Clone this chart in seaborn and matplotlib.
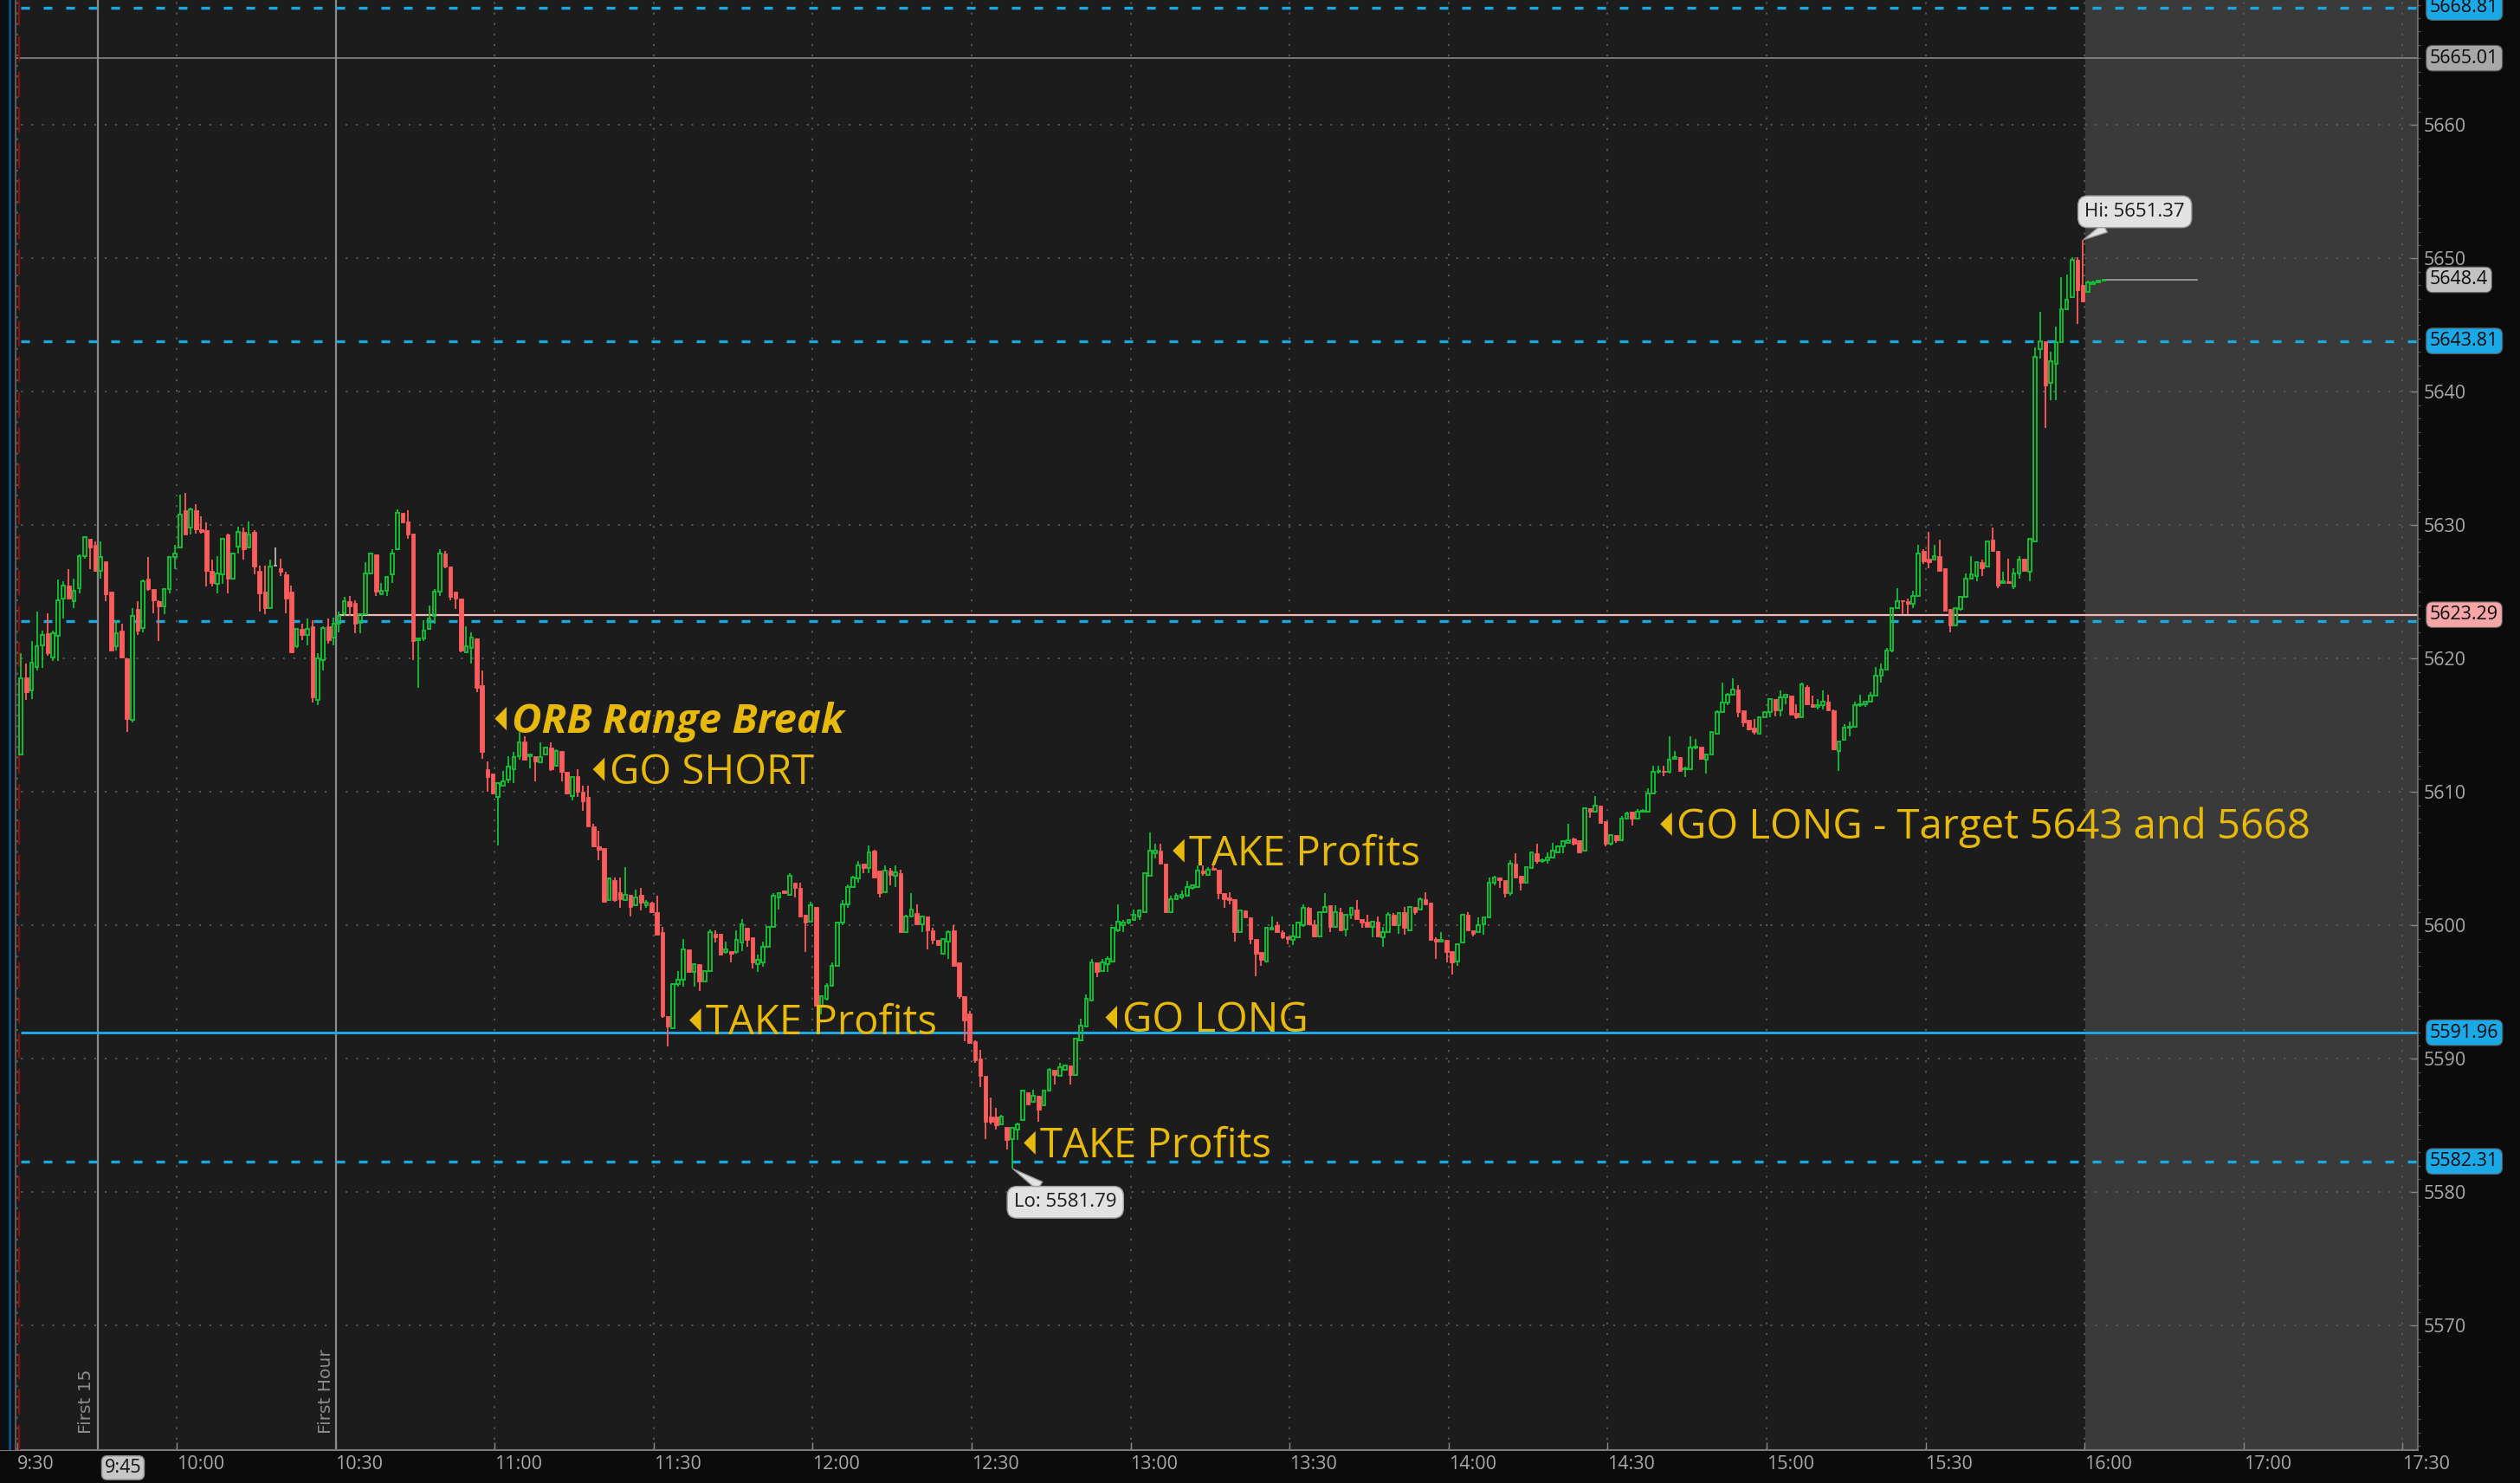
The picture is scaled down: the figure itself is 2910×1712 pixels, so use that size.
import numpy as np
import pandas as pd
import matplotlib
matplotlib.use("Agg")
import matplotlib.pyplot as plt
import seaborn as sns
from matplotlib.path import Path
from matplotlib.markers import MarkerStyle
from matplotlib.ticker import MultipleLocator, NullLocator
from matplotlib.transforms import blended_transform_factory

# 1-minute candles from 9:30 (index 0) to 15:59 (389) plus 4 after-close prints
opens = [
    5612.8, 5618.6, 5617.6, 5619.4, 5621.0, 5621.9, 5620.1, 5621.7, 5624.5, 5625.5,
    5624.3, 5625.3, 5627.7, 5629.0, 5628.5, 5626.6, 5627.3, 5625.0, 5620.9, 5622.1,
    5620.0, 5615.4, 5623.7, 5622.3, 5626.0, 5625.2, 5624.3, 5623.9, 5625.2, 5627.6,
    5628.3, 5631.1, 5629.8, 5631.1, 5629.7, 5629.6, 5626.6, 5625.6, 5626.3, 5629.3,
    5626.0, 5628.4, 5629.5, 5628.3, 5629.5, 5626.6, 5625.0, 5623.8, 5627.0, 5626.8,
    5626.3, 5625.0, 5620.9, 5622.2, 5621.8, 5622.4, 5616.9, 5619.9, 5622.4, 5621.6,
    5622.6, 5623.4, 5624.3, 5624.2, 5622.7, 5623.3, 5626.4, 5627.8, 5624.8, 5625.1,
    5626.3, 5628.2, 5630.9, 5630.3, 5629.4, 5621.4, 5621.5, 5622.2, 5623.2, 5625.0,
    5627.9, 5626.9, 5625.0, 5624.5, 5620.5, 5620.8, 5621.5, 5618.0, 5611.7, 5611.4,
    5609.6, 5610.5, 5610.9, 5611.7, 5612.7, 5613.8, 5612.7, 5612.7, 5612.2, 5612.8,
    5613.3, 5612.0, 5613.1, 5611.5, 5609.7, 5611.2, 5610.0, 5609.6, 5607.4, 5605.9,
    5605.8, 5601.9, 5603.4, 5602.5, 5601.9, 5602.3, 5601.5, 5602.3, 5601.5, 5601.7,
    5601.0, 5599.5, 5593.2, 5592.3, 5595.6, 5595.9, 5598.2, 5596.5, 5597.1, 5595.8,
    5596.6, 5599.4, 5599.4, 5598.0, 5598.1, 5598.0, 5598.7, 5599.8, 5599.1, 5597.1,
    5597.2, 5598.4, 5599.9, 5602.1, 5602.6, 5602.3, 5603.2, 5602.8, 5600.8, 5600.3,
    5601.4, 5594.0, 5594.5, 5595.5, 5597.0, 5600.2, 5601.6, 5602.9, 5603.5, 5604.6,
    5604.3, 5605.6, 5604.1, 5602.5, 5604.1, 5603.7, 5603.9, 5599.5, 5600.7, 5600.9,
    5600.1, 5600.7, 5599.6, 5598.9, 5597.9, 5598.8, 5599.6, 5597.2, 5594.7, 5593.4,
    5591.3, 5590.0, 5588.7, 5585.7, 5585.7, 5585.1, 5584.9, 5584.0, 5584.7, 5585.4,
    5587.5, 5586.8, 5587.2, 5586.5, 5587.6, 5589.2, 5588.7, 5589.2, 5589.5, 5588.8,
    5591.4, 5592.4, 5594.4, 5597.2, 5596.6, 5597.1, 5597.3, 5599.6, 5600.0, 5600.2,
    5600.4, 5600.7, 5601.0, 5603.7, 5605.4, 5605.6, 5604.6, 5601.0, 5602.0, 5602.1,
    5602.2, 5602.8, 5602.9, 5604.1, 5603.8, 5604.3, 5604.2, 5602.4, 5602.1, 5602.0,
    5599.5, 5601.1, 5600.6, 5599.0, 5598.0, 5597.3, 5599.7, 5600.0, 5599.5, 5599.2,
    5598.9, 5599.1, 5600.0, 5601.3, 5600.1, 5599.2, 5601.0, 5601.5, 5599.9, 5601.0,
    5599.7, 5600.8, 5601.2, 5600.5, 5600.3, 5599.9, 5600.3, 5599.1, 5599.5, 5600.8,
    5600.0, 5601.0, 5599.6, 5601.4, 5601.2, 5602.0, 5601.7, 5599.0, 5598.8, 5598.9,
    5598.1, 5597.3, 5598.7, 5600.8, 5599.6, 5599.5, 5600.1, 5600.6, 5603.2, 5603.6,
    5603.4, 5602.4, 5604.6, 5603.7, 5603.2, 5604.3, 5605.4, 5604.8, 5604.9, 5605.1,
    5605.5, 5605.9, 5606.2, 5606.5, 5606.4, 5605.6, 5608.8, 5608.5, 5609.0, 5607.8,
    5606.1, 5606.8, 5606.4, 5608.0, 5608.5, 5608.0, 5608.5, 5608.5, 5609.9, 5611.5,
    5611.6, 5611.5, 5612.5, 5612.6, 5611.7, 5611.7, 5613.3, 5613.4, 5612.4, 5612.8,
    5614.4, 5616.0, 5616.7, 5617.3, 5617.7, 5616.1, 5615.4, 5614.8, 5614.4, 5615.6,
    5616.0, 5617.0, 5616.1, 5617.1, 5617.2, 5615.9, 5615.6, 5617.9, 5616.6, 5616.4,
    5616.5, 5616.8, 5616.1, 5613.1, 5613.9, 5614.8, 5614.9, 5616.5, 5616.6, 5616.8,
    5617.2, 5618.7, 5619.2, 5620.6, 5623.8, 5624.4, 5624.3, 5624.1, 5624.7, 5628.1,
    5627.5, 5627.4, 5627.7, 5626.8, 5623.7, 5622.5, 5623.7, 5624.6, 5626.0, 5626.2,
    5627.2, 5626.9, 5628.9, 5628.1, 5625.7, 5625.8, 5625.4, 5626.4, 5627.5, 5626.5,
    5628.8, 5643.2, 5643.8, 5640.7, 5642.1, 5643.7, 5646.2, 5647.1, 5649.9, 5648.0,
    5647.5, 5648.1, 5648.2, 5648.3,
]
highs = [
    5620.4, 5619.6, 5621.3, 5623.5, 5622.1, 5623.4, 5622.1, 5625.9, 5625.8, 5626.7,
    5626.0, 5627.8, 5629.1, 5629.0, 5628.8, 5628.8, 5627.3, 5625.0, 5622.9, 5622.6,
    5620.0, 5623.8, 5624.3, 5625.9, 5627.6, 5625.2, 5624.4, 5625.3, 5627.6, 5628.5,
    5632.3, 5632.4, 5631.3, 5631.6, 5630.7, 5630.2, 5627.4, 5627.7, 5629.0, 5629.4,
    5627.9, 5629.9, 5629.8, 5630.3, 5629.6, 5627.0, 5627.0, 5627.4, 5628.3, 5627.5,
    5626.5, 5625.5, 5622.2, 5622.6, 5623.0, 5622.9, 5620.4, 5622.4, 5623.0, 5623.1,
    5623.5, 5624.6, 5624.7, 5624.4, 5623.4, 5627.2, 5627.9, 5627.8, 5625.7, 5626.1,
    5628.2, 5631.2, 5630.9, 5631.1, 5629.4, 5621.5, 5622.9, 5624.0, 5625.2, 5628.2,
    5628.1, 5626.9, 5625.0, 5624.5, 5622.4, 5622.0, 5621.5, 5619.1, 5612.3, 5611.4,
    5610.7, 5611.6, 5612.7, 5613.0, 5614.5, 5614.2, 5612.9, 5612.7, 5613.7, 5613.3,
    5613.7, 5613.2, 5613.1, 5611.5, 5611.1, 5611.7, 5610.5, 5610.5, 5607.6, 5607.1,
    5605.8, 5603.6, 5603.6, 5603.6, 5604.4, 5602.3, 5602.7, 5602.8, 5601.9, 5601.8,
    5602.2, 5599.9, 5593.2, 5595.7, 5596.6, 5599.0, 5598.2, 5597.1, 5597.1, 5596.6,
    5599.7, 5599.6, 5599.4, 5598.8, 5598.1, 5599.6, 5600.5, 5599.8, 5599.1, 5597.8,
    5598.8, 5599.9, 5602.4, 5602.5, 5602.6, 5603.9, 5603.2, 5603.2, 5600.8, 5601.8,
    5601.4, 5594.7, 5595.7, 5597.2, 5600.2, 5601.9, 5603.1, 5603.7, 5604.8, 5604.6,
    5606.0, 5605.7, 5604.1, 5604.5, 5604.3, 5604.5, 5604.2, 5600.8, 5602.4, 5601.6,
    5600.7, 5600.7, 5599.8, 5598.9, 5599.0, 5599.6, 5600.0, 5597.2, 5594.7, 5593.6,
    5591.4, 5590.7, 5588.7, 5587.1, 5586.3, 5585.8, 5584.9, 5584.8, 5585.2, 5587.7,
    5587.5, 5587.7, 5587.2, 5587.6, 5589.3, 5589.2, 5589.7, 5589.5, 5589.5, 5591.5,
    5593.0, 5594.8, 5597.5, 5597.2, 5597.5, 5597.7, 5599.8, 5601.6, 5600.4, 5600.4,
    5601.2, 5601.1, 5603.9, 5607.0, 5606.1, 5606.1, 5604.6, 5602.2, 5602.4, 5602.6,
    5603.3, 5603.1, 5604.5, 5604.5, 5604.4, 5604.6, 5604.2, 5602.4, 5602.5, 5602.0,
    5601.1, 5601.1, 5600.6, 5599.0, 5598.0, 5599.8, 5600.7, 5600.3, 5599.6, 5599.2,
    5600.1, 5600.3, 5601.6, 5601.4, 5600.4, 5601.0, 5602.4, 5601.5, 5601.5, 5601.3,
    5600.8, 5601.3, 5601.9, 5600.5, 5600.8, 5600.3, 5600.7, 5599.9, 5601.0, 5600.9,
    5600.9, 5601.4, 5601.4, 5601.4, 5602.1, 5602.5, 5601.7, 5599.1, 5599.5, 5598.9,
    5598.1, 5598.6, 5600.8, 5601.0, 5599.6, 5600.6, 5600.6, 5603.6, 5603.7, 5603.6,
    5603.4, 5604.9, 5605.4, 5603.7, 5604.4, 5605.5, 5606.1, 5605.0, 5605.5, 5606.2,
    5606.0, 5606.3, 5607.6, 5606.6, 5606.4, 5608.8, 5608.8, 5609.7, 5609.0, 5607.8,
    5606.8, 5606.8, 5608.2, 5608.5, 5608.5, 5608.7, 5608.7, 5610.3, 5612.0, 5612.0,
    5612.0, 5614.2, 5613.1, 5612.6, 5611.9, 5614.2, 5614.0, 5613.4, 5612.9, 5614.5,
    5616.1, 5618.2, 5617.4, 5618.5, 5618.0, 5616.1, 5615.4, 5615.5, 5615.6, 5616.0,
    5617.0, 5617.0, 5617.6, 5617.3, 5617.2, 5616.6, 5618.2, 5618.0, 5617.2, 5617.0,
    5617.6, 5617.3, 5616.2, 5613.8, 5615.1, 5615.3, 5616.8, 5617.3, 5616.8, 5617.5,
    5619.4, 5619.6, 5620.8, 5623.8, 5625.3, 5624.4, 5624.5, 5625.1, 5628.5, 5628.2,
    5629.5, 5628.5, 5628.9, 5626.8, 5623.7, 5623.8, 5624.7, 5626.4, 5627.7, 5627.2,
    5627.4, 5628.8, 5629.8, 5628.1, 5626.5, 5627.5, 5626.8, 5627.7, 5627.5, 5629.0,
    5643.3, 5646.0, 5643.8, 5643.0, 5644.9, 5648.6, 5648.8, 5650.1, 5650.1, 5651.37,
    5648.3, 5648.3, 5648.3, 5648.4,
]
lows = [
    5612.8, 5616.9, 5617.0, 5619.1, 5619.3, 5620.2, 5619.8, 5619.8, 5623.0, 5624.5,
    5623.8, 5624.9, 5627.5, 5626.7, 5626.5, 5626.0, 5624.3, 5620.6, 5620.6, 5620.1,
    5614.5, 5615.2, 5621.8, 5622.0, 5625.1, 5623.4, 5621.3, 5623.3, 5624.9, 5626.7,
    5628.3, 5629.3, 5629.3, 5629.4, 5629.4, 5625.4, 5625.4, 5624.9, 5625.6, 5624.9,
    5626.0, 5627.9, 5627.4, 5628.3, 5626.3, 5623.5, 5623.3, 5623.8, 5626.9, 5626.2,
    5623.4, 5620.5, 5620.8, 5621.4, 5621.0, 5616.7, 5616.5, 5619.1, 5621.1, 5621.0,
    5622.0, 5623.2, 5623.2, 5621.9, 5621.9, 5623.3, 5626.3, 5624.7, 5624.8, 5624.7,
    5625.7, 5628.2, 5630.2, 5629.0, 5619.9, 5617.8, 5621.3, 5622.2, 5622.6, 5624.7,
    5626.8, 5624.4, 5623.7, 5620.5, 5620.5, 5619.6, 5617.5, 5612.5, 5610.0, 5609.8,
    5606.0, 5610.4, 5610.7, 5610.7, 5612.4, 5612.4, 5611.8, 5610.8, 5612.2, 5612.8,
    5611.6, 5611.9, 5610.8, 5609.8, 5609.4, 5609.6, 5608.6, 5607.4, 5605.9, 5604.9,
    5601.7, 5601.9, 5601.8, 5601.3, 5601.9, 5600.7, 5601.5, 5601.1, 5601.3, 5600.9,
    5599.3, 5593.1, 5590.9, 5592.3, 5595.4, 5595.4, 5596.5, 5595.4, 5595.1, 5595.8,
    5596.6, 5598.7, 5597.8, 5597.9, 5597.2, 5597.9, 5598.1, 5598.4, 5596.8, 5596.5,
    5596.9, 5598.3, 5599.9, 5601.2, 5602.4, 5602.2, 5602.1, 5600.6, 5598.0, 5600.3,
    5594.0, 5593.3, 5594.4, 5595.5, 5597.0, 5600.0, 5601.3, 5602.8, 5603.2, 5603.9,
    5603.9, 5603.6, 5602.1, 5602.5, 5603.0, 5602.9, 5599.5, 5599.5, 5600.6, 5600.1,
    5599.5, 5598.2, 5598.6, 5598.5, 5597.9, 5597.5, 5597.0, 5594.5, 5591.3, 5591.1,
    5589.7, 5587.9, 5584.0, 5585.1, 5584.7, 5585.1, 5583.2, 5581.79, 5583.9, 5585.4,
    5586.6, 5586.8, 5585.3, 5586.5, 5587.6, 5588.1, 5588.7, 5589.2, 5588.1, 5588.8,
    5591.4, 5592.4, 5594.4, 5596.1, 5596.6, 5596.5, 5597.3, 5599.5, 5599.5, 5600.1,
    5600.4, 5600.4, 5601.0, 5603.7, 5605.0, 5604.6, 5601.0, 5601.0, 5601.9, 5602.0,
    5602.2, 5602.7, 5602.9, 5603.7, 5603.8, 5604.2, 5602.0, 5601.3, 5601.6, 5598.8,
    5599.5, 5600.6, 5598.6, 5596.2, 5597.0, 5597.3, 5599.7, 5599.5, 5599.0, 5598.6,
    5598.5, 5599.1, 5599.9, 5600.1, 5599.2, 5599.2, 5600.9, 5599.5, 5599.9, 5599.6,
    5599.2, 5600.5, 5600.5, 5599.8, 5599.9, 5599.1, 5599.2, 5598.4, 5599.5, 5600.0,
    5599.4, 5599.3, 5599.6, 5600.8, 5601.2, 5601.6, 5598.9, 5597.5, 5598.8, 5597.2,
    5596.3, 5597.0, 5598.7, 5599.6, 5599.2, 5599.5, 5599.3, 5600.6, 5603.0, 5602.8,
    5602.1, 5602.2, 5603.6, 5602.6, 5603.2, 5604.3, 5604.6, 5604.7, 5604.6, 5605.1,
    5605.4, 5605.4, 5606.2, 5606.0, 5605.5, 5605.6, 5608.1, 5608.5, 5607.7, 5605.9,
    5606.0, 5606.2, 5606.3, 5608.0, 5607.5, 5608.0, 5608.5, 5608.5, 5609.9, 5611.4,
    5611.2, 5611.4, 5612.4, 5611.6, 5611.1, 5611.7, 5613.2, 5612.4, 5611.4, 5612.8,
    5614.4, 5616.0, 5616.5, 5617.3, 5615.6, 5614.9, 5614.6, 5614.3, 5614.4, 5615.6,
    5615.6, 5615.7, 5615.7, 5616.6, 5615.8, 5615.5, 5615.6, 5616.6, 5616.3, 5616.2,
    5616.2, 5616.1, 5613.2, 5611.6, 5613.9, 5614.2, 5614.9, 5616.4, 5616.4, 5616.8,
    5617.2, 5618.2, 5619.2, 5620.5, 5623.8, 5623.3, 5623.3, 5623.8, 5624.7, 5627.1,
    5626.8, 5627.4, 5626.6, 5623.6, 5622.0, 5622.5, 5623.6, 5624.6, 5626.0, 5625.8,
    5626.2, 5626.9, 5628.1, 5625.3, 5625.6, 5625.7, 5625.2, 5626.0, 5626.6, 5625.8,
    5628.8, 5642.5, 5637.3, 5639.4, 5639.4, 5643.7, 5646.1, 5647.1, 5645.1, 5646.8,
    5647.5, 5648.1, 5648.2, 5648.3,
]
closes = [
    5618.5, 5617.5, 5619.7, 5620.9, 5621.8, 5620.4, 5621.9, 5624.4, 5625.5, 5624.5,
    5625.1, 5627.7, 5629.1, 5628.3, 5626.6, 5627.6, 5624.8, 5620.6, 5621.9, 5620.1,
    5615.5, 5623.2, 5622.1, 5625.8, 5625.2, 5624.4, 5623.9, 5625.2, 5627.6, 5627.9,
    5630.8, 5629.3, 5631.2, 5629.7, 5629.5, 5626.6, 5625.7, 5626.4, 5629.0, 5626.0,
    5627.9, 5629.5, 5628.2, 5629.3, 5626.9, 5624.9, 5623.8, 5626.9, 5627.0, 5626.5,
    5624.5, 5620.5, 5622.2, 5621.8, 5622.2, 5617.1, 5620.0, 5622.3, 5621.4, 5622.6,
    5623.2, 5624.3, 5623.9, 5622.6, 5623.3, 5626.4, 5627.9, 5625.0, 5625.1, 5626.1,
    5627.9, 5630.9, 5630.2, 5629.3, 5621.3, 5621.5, 5622.1, 5623.0, 5625.0, 5627.9,
    5626.9, 5624.6, 5624.5, 5620.6, 5620.9, 5621.6, 5617.8, 5613.0, 5611.1, 5609.9,
    5610.7, 5610.8, 5611.9, 5612.6, 5613.7, 5612.4, 5612.8, 5612.3, 5612.6, 5613.3,
    5611.7, 5613.1, 5611.5, 5609.9, 5611.1, 5610.0, 5609.3, 5607.4, 5605.9, 5605.7,
    5601.8, 5603.5, 5601.9, 5602.0, 5602.3, 5601.4, 5602.1, 5601.7, 5601.7, 5601.0,
    5599.3, 5593.2, 5592.4, 5595.6, 5595.9, 5598.2, 5596.5, 5597.1, 5595.8, 5596.6,
    5599.5, 5599.1, 5597.8, 5598.2, 5597.9, 5598.9, 5600.1, 5598.9, 5597.2, 5597.4,
    5598.4, 5599.9, 5602.2, 5602.4, 5602.4, 5603.7, 5602.8, 5600.7, 5600.2, 5601.5,
    5594.0, 5594.7, 5595.5, 5597.0, 5600.2, 5601.6, 5602.9, 5603.6, 5604.5, 5604.3,
    5605.5, 5603.6, 5602.4, 5604.1, 5603.8, 5604.0, 5599.5, 5600.7, 5601.2, 5600.1,
    5600.7, 5599.6, 5598.9, 5598.5, 5599.0, 5599.5, 5597.0, 5594.7, 5592.9, 5591.2,
    5589.9, 5588.7, 5585.3, 5585.3, 5585.0, 5585.7, 5583.9, 5584.8, 5585.1, 5587.6,
    5586.6, 5587.2, 5586.2, 5587.6, 5589.2, 5588.8, 5589.4, 5589.5, 5588.8, 5591.5,
    5592.5, 5594.5, 5597.2, 5596.5, 5597.2, 5597.5, 5599.8, 5600.3, 5600.2, 5600.4,
    5600.8, 5601.1, 5603.9, 5605.6, 5605.6, 5604.6, 5601.0, 5602.0, 5602.2, 5602.3,
    5602.9, 5603.0, 5604.1, 5603.9, 5604.2, 5604.2, 5602.4, 5602.0, 5601.9, 5599.5,
    5601.1, 5600.6, 5599.0, 5597.9, 5597.4, 5599.8, 5599.8, 5599.5, 5599.1, 5599.0,
    5599.2, 5600.2, 5601.3, 5600.1, 5599.2, 5601.0, 5601.4, 5599.9, 5601.0, 5599.6,
    5600.8, 5601.3, 5600.5, 5600.2, 5599.9, 5600.3, 5599.2, 5599.5, 5600.8, 5600.0,
    5600.9, 5599.8, 5601.4, 5601.0, 5602.0, 5601.6, 5598.9, 5598.8, 5598.9, 5598.0,
    5597.2, 5598.6, 5600.8, 5599.6, 5599.4, 5600.0, 5600.6, 5603.2, 5603.6, 5603.4,
    5602.4, 5604.6, 5603.6, 5603.2, 5604.4, 5605.5, 5604.8, 5604.9, 5605.1, 5605.6,
    5605.9, 5606.3, 5606.4, 5606.1, 5605.5, 5608.8, 5608.5, 5609.0, 5607.7, 5606.1,
    5606.8, 5606.4, 5608.0, 5608.4, 5608.0, 5608.5, 5608.6, 5609.9, 5611.5, 5611.6,
    5611.5, 5612.4, 5612.6, 5611.6, 5611.8, 5613.3, 5613.4, 5612.5, 5612.8, 5614.5,
    5616.0, 5616.7, 5617.3, 5617.7, 5616.0, 5615.2, 5614.7, 5614.5, 5615.6, 5616.0,
    5617.0, 5616.1, 5617.1, 5617.3, 5615.8, 5615.6, 5618.1, 5616.6, 5616.4, 5616.5,
    5616.8, 5616.1, 5613.2, 5613.8, 5614.8, 5614.9, 5616.5, 5616.6, 5616.8, 5617.2,
    5618.7, 5619.2, 5620.6, 5623.8, 5624.3, 5624.3, 5624.1, 5624.7, 5627.9, 5627.3,
    5627.2, 5627.7, 5626.6, 5623.6, 5622.5, 5623.8, 5624.6, 5626.0, 5626.3, 5627.2,
    5626.8, 5628.8, 5628.1, 5625.5, 5625.8, 5625.7, 5626.4, 5627.4, 5626.6, 5629.0,
    5642.6, 5643.8, 5640.5, 5642.3, 5643.7, 5646.2, 5646.9, 5649.9, 5647.6, 5646.8,
    5648.2, 5648.2, 5648.3, 5648.4,
]

time_ticks = [0, 30, 60, 90, 120, 150, 180, 210, 240, 270, 300, 330, 360, 390, 420, 450]
time_labels = ["9:30", "10:00", "10:30", "11:00", "11:30", "12:00", "12:30", "13:00",
               "13:30", "14:00", "14:30", "15:00", "15:30", "16:00", "17:00", "17:30"]
price_ticks = [5570, 5580, 5590, 5600, 5610, 5620, 5630, 5640, 5650, 5660]

# price levels drawn on the chart
dashed_levels = [5668.81, 5643.81, 5622.8, 5582.31]
solid_level = 5591.96
prev_close = 5623.29
gray_level = 5665.01
last_price = 5648.4

# boxed labels on the price axis
box_values = [5668.81, 5665.01, 5648.4, 5643.81, 5623.29, 5591.96, 5582.31]
box_texts = ["5668.81", "5665.01", "5648.4", "5643.81", "5623.29", "5591.96", "5582.31"]
box_colors = ["#1aa9e6", "#a8a8a8", "#c2c2c2", "#1aa9e6", "#f6a6a6", "#1aa9e6", "#1aa9e6"]

# trade notes: minute of triangle tip, price of its centre
ann_texts = ["ORB Range Break", "GO SHORT", "TAKE Profits", "TAKE Profits",
             "GO LONG", "TAKE Profits", "GO LONG - Target 5643 and 5668"]
ann_x = [90.1, 108.6, 126.8, 189.9, 205.3, 218.0, 310.0]
ann_y = [5615.5, 5611.7, 5592.9, 5583.7, 5593.1, 5605.6, 5607.6]

GREEN = "#12c234"
RED = "#fd5c5c"
GOLD = "#e7b90a"
CYAN = "#1ba8e2"
BG = "#1c1c1c"
PX = 6.12  # pixels per minute

sns.set_style("dark", {"axes.facecolor": BG})
plt.rcParams["font.family"] = ["Open Sans", "DejaVu Sans"]

fig = plt.figure(figsize=(29.10, 17.12), dpi=100)
fig.patch.set_facecolor("#0b0b0b")
ax = fig.add_axes([0, 38 / 1712, 2792 / 2910, 1674 / 1712])
ax.set_facecolor(BG)

x0, x1 = -20.3 / PX, (2792 - 20.3) / PX
ax.set_xlim(x0, x1)
ax.set_ylim(5560.67, 5669.37)

# after-hours shading and left edge strip
ax.axvspan(390.2, x1, color="#3a3a3a", zorder=0.1, lw=0)
ax.axvspan(x0, -0.55, color="#0e0e15", zorder=5, lw=0)
ax.axvline(-1.60, color="#0d4f80", lw=2.2, zorder=6)
ax.axvline(-0.45, color="#5c5c5c", lw=1.4, zorder=6)
ax.axvline(0.28, color="#8a1010", lw=1.6, ls=(0, (13, 5.5)), zorder=2.6)

# grid
ax.set_xticks(time_ticks)
ax.set_xticklabels(time_labels)
ax.set_yticks(price_ticks)
ax.grid(True, which="major", color="#5c5c5c", linestyle=(0, (1.2, 5.5)), linewidth=1.3)
ax.set_axisbelow(True)

# session markers
ax.axvline(15.1, color="#8a8a8a", lw=1.6, zorder=2.2)
ax.axvline(60.1, color="#8a8a8a", lw=1.6, zorder=2.2)
ax.text(12.9, 5561.9, "First 15", rotation=90, ha="center", va="bottom",
        color="#8c8c8c", fontsize=14.5, family="DejaVu Sans", zorder=3)
ax.text(58.2, 5561.9, "First Hour", rotation=90, ha="center", va="bottom",
        color="#8c8c8c", fontsize=14.5, family="DejaVu Sans", zorder=3)

# horizontal levels
ax.hlines(gray_level, -0.45, x1, color="#8f8f8f", lw=1.1, zorder=2.3)
ax.hlines(dashed_levels, 0.6, x1, color=CYAN, lw=2.4, linestyles=[(0, (3, 4.8))], zorder=2.4)
ax.hlines(solid_level, 0.6, x1, color=CYAN, lw=2.2, zorder=2.4)
ax.hlines(prev_close, 60.8, x1, color="#f2b4b4", lw=1.6, zorder=2.5)
ax.hlines(last_price, 393.4, 411.4, color="#9c9c9c", lw=1.3, zorder=2.5)

# candles
df = pd.DataFrame({"o": opens, "h": highs, "l": lows, "c": closes})
df["x"] = np.arange(len(df)) + 0.65
df["top"] = df[["o", "c"]].max(axis=1)
df["bot"] = df[["o", "c"]].min(axis=1)
df["col"] = np.where(df.c > df.o, GREEN, np.where(df.c < df.o, RED, "#b5b5b5"))

ax.vlines(df.x, df.top, df.h, colors=df.col, lw=1.3, zorder=3)
ax.vlines(df.x, df.l, df.bot, colors=df.col, lw=1.3, zorder=3)

up = df[df.c > df.o]
dn = df[df.c < df.o]
fl = df[df.c == df.o]
ax.bar(up.x, np.maximum(up.c - up.o, 0.07), bottom=up.o, width=0.6,
       facecolor="none", edgecolor=GREEN, linewidth=1.35, zorder=3.1)
ax.bar(dn.x, np.maximum(dn.o - dn.c, 0.07), bottom=dn.c, width=0.74,
       facecolor=RED, edgecolor=RED, linewidth=0.6, zorder=3.1)
ax.hlines(fl.o, fl.x - 0.35, fl.x + 0.35, color="#b5b5b5", lw=1.3, zorder=3.1)

# trade notes
tri = Path([(-0.5, 0.0), (0.5, 1.0), (0.5, -1.0), (-0.5, 0.0)],
           [Path.MOVETO, Path.LINETO, Path.LINETO, Path.CLOSEPOLY])
tri_df = pd.DataFrame({"x": np.array(ann_x) + 6.5 / PX, "y": ann_y})
sns.scatterplot(data=tri_df, x="x", y="y", marker=MarkerStyle(tri), s=380,
                color=GOLD, edgecolor="none", ax=ax, zorder=4, legend=False)
for i, (t, xx, yy) in enumerate(zip(ann_texts, ann_x, ann_y)):
    kw = dict(fontweight="bold", fontstyle="italic") if i == 0 else {}
    ax.text(xx + 19 / PX, yy - 1.09, t, fontsize=34, color=GOLD,
            ha="left", va="baseline", zorder=4, **kw)

# high / low call-outs
for txt, xy, xyt in [("Hi: 5651.37", (389.65, 5651.37), (399.5, 5653.5)),
                     ("Lo: 5581.79", (187.65, 5581.79), (197.7, 5579.25))]:
    ax.annotate(txt, xy=xy, xytext=xyt, fontsize=16, color="#1a1a1a",
                ha="center", va="center", zorder=6,
                bbox=dict(boxstyle="round,pad=0.35,rounding_size=0.5",
                          fc="#e2e2e2", ec="#9e9e9e", lw=1),
                arrowprops=dict(arrowstyle="wedge,tail_width=0.5", fc="#e2e2e2",
                                ec="#9e9e9e", lw=1, shrinkA=0, shrinkB=1))

# axes styling
for s in ["top", "left"]:
    ax.spines[s].set_visible(False)
ax.spines["right"].set_color("#7a7a7a")
ax.spines["right"].set_linewidth(1.1)
ax.spines["bottom"].set_color("#7a7a7a")
ax.spines["bottom"].set_linewidth(1.5)
ax.xaxis.label.set_visible(False)
ax.yaxis.label.set_visible(False)

ax.yaxis.tick_right()
ax.yaxis.set_minor_locator(MultipleLocator(1))
ax.xaxis.set_minor_locator(NullLocator())
ax.tick_params(axis="y", which="major", direction="in", length=6, width=1,
               color="#8a8a8a", labelcolor="#a8a8a8", labelsize=15.5, pad=5)
ax.tick_params(axis="y", which="minor", direction="out", length=2.5, width=0.8,
               color="#555555")
ax.tick_params(axis="x", which="major", direction="in", length=6.5, width=1,
               color="#8a8a8a", labelcolor="#a8a8a8", labelsize=15.5, pad=4,
               bottom=True)
for lbl in ax.get_xticklabels():
    lbl.set_horizontalalignment("left")

# highlighted 9:45 time label
tr_x = blended_transform_factory(ax.transData, ax.transAxes)
ax.text(16.4, -0.0122, "9:45", transform=tr_x, ha="left", va="center",
        fontsize=15.5, color="#111111", clip_on=False, zorder=10,
        bbox=dict(boxstyle="round,pad=0.15,rounding_size=0.3", fc="#c6c6c6",
                  ec="#8e8e8e", lw=1))

# boxed price labels
tr_y = blended_transform_factory(ax.transAxes, ax.transData)
for v, t, c in zip(box_values, box_texts, box_colors):
    ax.text(1.0 + 14 / 2792, v, t, transform=tr_y, ha="left", va="center",
            fontsize=15.5, color="#0a0a0a", clip_on=False, zorder=10,
            bbox=dict(boxstyle="round,pad=0.2,rounding_size=0.35", fc=c,
                      ec="#5a5a5a", lw=0.8))

fig.savefig("out.png", dpi=100, facecolor=fig.get_facecolor())
